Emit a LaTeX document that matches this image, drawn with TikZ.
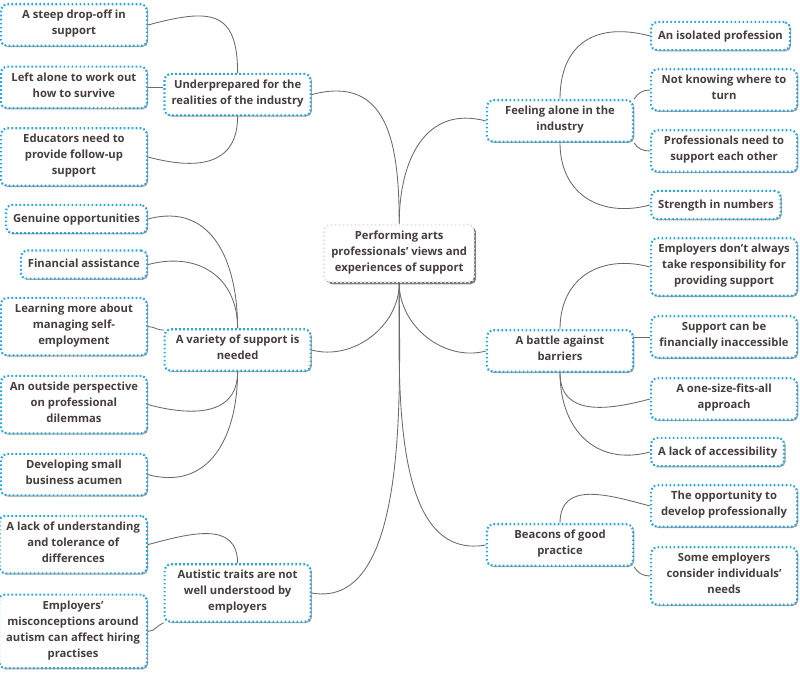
\documentclass[tikz,border=0pt]{standalone}
\usepackage{fontspec}
\setmainfont{Open Sans}
\usetikzlibrary{shadows}
\definecolor{dotblue}{RGB}{38,165,225}
\definecolor{inkgray}{RGB}{70,62,60}
\definecolor{linkgray}{RGB}{105,105,105}

\begin{document}
\begin{tikzpicture}[
    leafbox/.style={rectangle, rounded corners=4pt, fill=white, draw=dotblue,
        line width=1.5pt, dash pattern=on 1.2pt off 1.65pt,
        drop shadow={shadow xshift=0.9pt, shadow yshift=-0.9pt, fill=black, opacity=0.35},
        text=inkgray, font=\fontsize{8}{11.4}\selectfont\bfseries, align=center,
        inner xsep=5pt, inner ysep=4.3pt,
        execute at begin node=\strut, execute at end node=\strut},
    wideleaf/.style={leafbox, minimum width=3.65cm},
    topicbox/.style={leafbox, minimum width=3.65cm},
    rootbox/.style={leafbox, draw=gray!20, minimum width=3.7cm,
        drop shadow={shadow xshift=1.5pt, shadow yshift=-1.5pt, fill=black!90}},
    branch/.style={draw=linkgray, line width=0.6pt, solid}
]
    \useasboundingbox (0,0) rectangle (20,16.875);

    \node[rootbox] (root) at (9.98,10.54) {Performing arts\\professionals' views and\\experiences of support};

    \node[topicbox] (under) at (5.94,14.51) {Underprepared for the\\realities of the industry};
    \node[topicbox] (variety) at (5.94,8.125) {A variety of support is\\needed};
    \node[topicbox] (autistic) at (5.94,2.05) {Autistic traits are not\\well understood by\\employers};
    \node[topicbox] (feel) at (14.0,13.85) {Feeling alone in the\\industry};
    \node[topicbox] (battle) at (14.0,8.10) {A battle against\\barriers};
    \node[topicbox] (beacons) at (14.0,3.25) {Beacons of good\\practice};

    \node[wideleaf, anchor=east] (steep) at (3.7,16.25) {A steep drop-off in\\support};
    \node[wideleaf, anchor=east] (alone) at (3.7,14.69) {Left alone to work out\\how to survive};
    \node[wideleaf, anchor=east] (educators) at (3.7,12.95) {Educators need to\\provide follow-up\\support};
    \node[leafbox, anchor=east] (genuine) at (3.7,11.40) {Genuine opportunities};
    \node[leafbox, anchor=east] (financial) at (3.7,10.26) {Financial assistance};
    \node[wideleaf, anchor=east] (learning) at (3.7,8.71) {Learning more about\\managing self-\\employment};
    \node[wideleaf, anchor=east] (outside) at (3.7,6.76) {An outside perspective\\on professional\\dilemmas};
    \node[wideleaf, anchor=east] (acumen) at (3.7,5.01) {Developing small\\business acumen};
    \node[wideleaf, anchor=east] (tolerance) at (3.7,3.26) {A lack of understanding\\and tolerance of\\differences};
    \node[wideleaf, anchor=east] (hiring) at (3.7,1.09) {Employers’\\misconceptions around\\autism can affect hiring\\practises};

    \node[leafbox, anchor=west] (isolated) at (16.25,15.975) {An isolated profession};
    \node[wideleaf, anchor=west] (turn) at (16.25,14.625) {Not knowing where to\\turn};
    \node[wideleaf, anchor=west] (eachother) at (16.25,13.1) {Professionals need to\\support each other};
    \node[leafbox, anchor=west] (numbers) at (16.25,11.75) {Strength in numbers};
    \node[wideleaf, anchor=west] (responsibility) at (16.25,10.2) {Employers don’t always\\take responsibility for\\providing support};
    \node[wideleaf, anchor=west] (costly) at (16.25,8.45) {Support can be\\financially inaccessible};
    \node[wideleaf, anchor=west] (onesize) at (16.25,6.9) {A one-size-fits-all\\approach};
    \node[leafbox, anchor=west] (access) at (16.25,5.575) {A lack of accessibility};
    \node[wideleaf, anchor=west] (develop) at (16.25,4.225) {The opportunity to\\develop professionally};
    \node[wideleaf, anchor=west] (needs) at (16.25,2.475) {Some employers\\consider individuals’\\needs};

    \draw[branch] (root.north) to[out=90,in=15,looseness=1.3] (under.east);
    \draw[branch] (root.north) to[out=90,in=165,looseness=1.2] (feel.west);
    \draw[branch] (root.south) to[out=-90,in=-15] (variety.east);
    \draw[branch] (root.south) to[out=-90,in=195] (battle.west);
    \draw[branch] (root.south) to[out=-90,in=-10,looseness=0.8] (autistic.east);
    \draw[branch] (root.south) to[out=-90,in=190,looseness=0.9] (beacons.west);

    \draw[branch] (under.north) to[out=90,in=15,looseness=1.6] (steep.east);
    \draw[branch] (alone.east) -- (alone.east -| under.west);
    \draw[branch] (under.south) to[out=-90,in=-15,looseness=1.3] (educators.east);

    \draw[branch] (variety.north) to[out=90,in=15,looseness=1.2] (genuine.east);
    \draw[branch] (variety.north) to[out=90,in=15,looseness=1.2] (financial.east);
    \draw[branch] (variety.165) to[out=180,in=0] (learning.east);
    \draw[branch] (variety.south) to[out=-90,in=-15,looseness=1.2] (outside.east);
    \draw[branch] (variety.south) to[out=-90,in=-15,looseness=1.2] (acumen.east);

    \draw[branch] (autistic.north) to[out=90,in=15,looseness=1.2] (tolerance.east);
    \draw[branch] (autistic.south west) to[out=200,in=0] (hiring.east);

    \draw[branch] (feel.north) to[out=90,in=165,looseness=1.3] (isolated.west);
    \draw[branch] (feel.north east) to[out=60,in=180] (turn.west);
    \draw[branch] (feel.south east) to[out=-60,in=180] (eachother.west);
    \draw[branch] (feel.south) to[out=-90,in=195,looseness=1.2] (numbers.west);

    \draw[branch] (battle.north) to[out=90,in=165,looseness=1.2] (responsibility.west);
    \draw[branch] (costly.west) -- (costly.west -| battle.east);
    \draw[branch] (battle.south) to[out=-90,in=195,looseness=1.2] (onesize.west);
    \draw[branch] (battle.south) to[out=-90,in=195,looseness=1.2] (access.west);

    \draw[branch] (beacons.north) to[out=90,in=165,looseness=1.2] (develop.west);
    \draw[branch] (beacons.south east) to[out=-60,in=180] (needs.west);
\end{tikzpicture}
\end{document}
